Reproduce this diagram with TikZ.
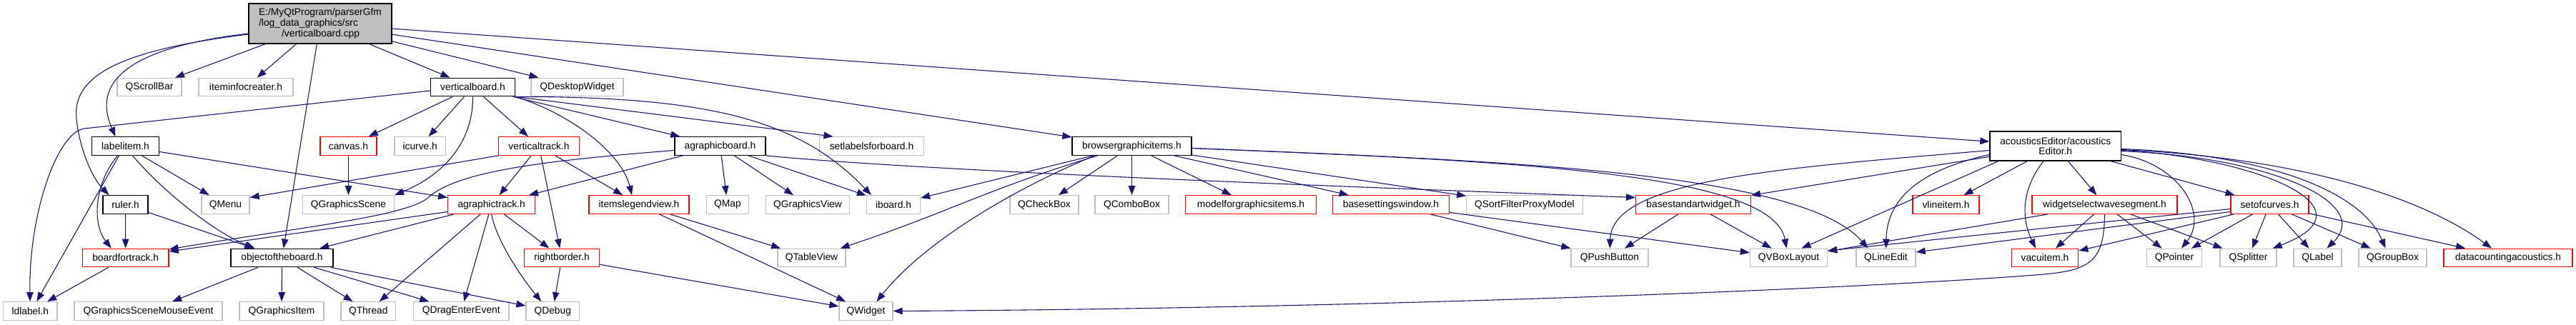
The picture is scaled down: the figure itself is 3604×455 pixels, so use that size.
\documentclass[tikz,border=0pt]{standalone}
\usepackage{fontspec}
\setmainfont{Liberation Sans}
\usepackage{tikz}
\usetikzlibrary{arrows.meta}
\definecolor{EdgeBlue}{HTML}{191970}
\definecolor{BoxGray}{HTML}{BFBFBF}
\definecolor{BoxRed}{HTML}{FF0000}

\begin{document}
\begin{tikzpicture}[
  x=1pt,y=1pt,
  font=\fontsize{13.8}{14.7}\selectfont,
  sysbox/.style={draw=BoxGray,line width=1.3pt,minimum height=25.5pt,inner sep=0pt},
  filebox/.style={draw=black,line width=1.3pt,minimum height=25.5pt,inner sep=0pt},
  cutbox/.style={draw=BoxRed,line width=1.3pt,minimum height=25.5pt,inner sep=0pt},
  rootbox/.style={draw=black,fill=BoxGray,line width=1.3pt,minimum width=200pt,minimum height=56pt,inner sep=0pt,align=left},
  arr/.style={-{Triangle[length=13pt,width=9.5pt]},line width=1.1pt,color=EdgeBlue}
]
\useasboundingbox (0,0) rectangle (3604,-455);

\node[rootbox] (root) at (448,-33)
  {E:/MyQtProgram/parserGfm\\/log\_data\_graphics/src\\\hspace*{32pt}/verticalboard.cpp};

\node[sysbox,minimum width=90pt] (scrollbar) at (209,-122) {QScrollBar};
\node[sysbox,minimum width=132pt] (infocreater) at (344,-122) {iteminfocreater.h};
\node[filebox,minimum width=118pt] (vboard) at (661.5,-122) {verticalboard.h};
\node[sysbox,minimum width=129pt] (desktopw) at (807.5,-122) {QDesktopWidget};

\node[filebox,minimum width=94pt] (labelitem) at (175.5,-204.5) {labelitem.h};
\node[cutbox,minimum width=79pt] (canvas) at (487.5,-204.5) {canvas.h};
\node[sysbox,minimum width=71.5pt] (icurve) at (587.7,-204.5) {icurve.h};
\node[cutbox,minimum width=112.5pt] (vtrack) at (754,-204.5) {verticaltrack.h};
\node[filebox,minimum width=127pt] (agboard) at (1007.5,-204.5) {agraphicboard.h};
\node[sysbox,minimum width=146pt] (setlabels) at (1219.5,-204.5) {setlabelsforboard.h};
\node[filebox,minimum width=167pt] (browser) at (1583.5,-204.5) {browsergraphicitems.h};
\node[filebox,minimum width=183.5pt,minimum height=41pt,align=center] (acoustic) at (2875.7,-204.5)
  {acousticsEditor/acoustics\\Editor.h};

\node[filebox,minimum width=63pt] (ruler) at (175.5,-286.5) {ruler.h};
\node[sysbox,minimum width=67pt] (qmenu) at (315.5,-286.5) {QMenu};
\node[sysbox,minimum width=128pt] (gscene) at (487.5,-286.5) {QGraphicsScene};
\node[cutbox,minimum width=122pt] (agtrack) at (687.7,-286.5) {agraphictrack.h};
\node[cutbox,minimum width=140pt] (legendview) at (894,-286.5) {itemslegendview.h};
\node[sysbox,minimum width=59pt] (qmap) at (1018,-286.5) {QMap};
\node[sysbox,minimum width=117.5pt] (gview) at (1130,-286.5) {QGraphicsView};
\node[sysbox,minimum width=75pt] (iboard) at (1250,-286.5) {iboard.h};
\node[sysbox,minimum width=96pt] (checkbox) at (1461,-286.5) {QCheckBox};
\node[sysbox,minimum width=103pt] (combobox) at (1583.5,-286.5) {QComboBox};
\node[cutbox,minimum width=182.5pt] (modelitems) at (1750,-286.5) {modelforgraphicsitems.h};
\node[cutbox,minimum width=162.5pt] (settingswin) at (1946,-286.5) {basesettingswindow.h};
\node[sysbox,minimum width=162.5pt] (sortproxy) at (2133,-286.5) {QSortFilterProxyModel};
\node[cutbox,minimum width=160.5pt] (stdwidget) at (2369,-286.5) {basestandartwidget.h};
\node[cutbox,minimum width=93pt] (vline) at (2722.5,-286.5) {vlineitem.h};
\node[cutbox,minimum width=203pt] (wavesegment) at (2944.5,-286.5) {widgetselectwavesegment.h};
\node[cutbox,minimum width=109pt] (curves) at (3175.5,-286.5) {setofcurves.h};

\node[cutbox,minimum width=120.5pt] (boardtrack) at (175.7,-361) {boardfortrack.h};
\node[filebox,minimum width=143pt] (objboard) at (394.5,-361) {objectoftheboard.h};
\node[cutbox,minimum width=105.6pt] (rborder) at (786,-361) {rightborder.h};
\node[sysbox,minimum width=95pt] (tableview) at (1135.5,-361) {QTableView};
\node[sysbox,minimum width=108pt] (pushbtn) at (2252,-361) {QPushButton};
\node[sysbox,minimum width=108pt] (vbox) at (2502.5,-361) {QVBoxLayout};
\node[sysbox,minimum width=83pt] (lineedit) at (2638.5,-361) {QLineEdit};
\node[cutbox,minimum width=93.5pt] (vacu) at (2861,-361) {vacuitem.h};
\node[sysbox,minimum width=77.5pt] (qpointer) at (3042,-361) {QPointer};
\node[sysbox,minimum width=79pt] (splitter) at (3145.5,-361) {QSplitter};
\node[sysbox,minimum width=67pt] (qlabel) at (3242.5,-361) {QLabel};
\node[sysbox,minimum width=95pt] (groupbox) at (3347.5,-361) {QGroupBox};
\node[cutbox,minimum width=180pt] (datacount) at (3509,-361) {datacountingacoustics.h};

\node[sysbox,minimum width=75.3pt] (ldlabel) at (42.3,-435.5) {ldlabel.h};
\node[sysbox,minimum width=207pt] (mouseevent) at (207.5,-435.5) {QGraphicsSceneMouseEvent};
\node[sysbox,minimum width=118pt] (gitem) at (394,-435.5) {QGraphicsItem};
\node[sysbox,minimum width=76.6pt] (qthread) at (515.3,-435.5) {QThread};
\node[sysbox,minimum width=133.5pt] (dragenter) at (645.3,-435.5) {QDragEnterEvent};
\node[sysbox,minimum width=74.5pt] (qdebug) at (773.3,-435.5) {QDebug};
\node[sysbox,minimum width=75pt] (qwidget) at (1211.5,-435.5) {QWidget};

\draw[arr] (root)--(scrollbar);
\draw[arr] (root)--(infocreater);
\draw[arr] (root)--(objboard);
\draw[arr] (root)--(vboard);
\draw[arr] (root)--(desktopw);
\draw[arr] (root)--(browser);
\draw[arr] (root)--(acoustic);
\draw[arr] ([yshift=-14pt]root.west) .. controls (150,-70) and (135,-130) .. ([xshift=-14pt]labelitem.north);
\draw[arr] ([yshift=-15pt]root.west) .. controls (170,-70) and (100,-105) .. (107,-167)
  .. controls (112,-212) and (130,-250) .. ([xshift=-23pt]ruler.north);

\draw[arr] ([yshift=-5pt]vboard.west)--(118,-180) .. controls (80,-185) and (40,-300) .. (ldlabel);
\draw[arr] (vboard)--(canvas);
\draw[arr] (vboard)--(icurve);
\draw[arr] (vboard.south) .. controls (662,-200) and (620,-245) .. (gscene.north east);
\draw[arr] (vboard)--(vtrack);
\draw[arr] (vboard)--(agboard);
\draw[arr] (vboard.south east) .. controls (800,-160) and (870,-215) .. ([xshift=-10pt]legendview.north);
\draw[arr] (vboard.south east)--([xshift=-54pt]setlabels.north);
\draw[arr] (vboard.south east) .. controls (1000,-135) and (1120,-170) .. ([xshift=-31pt]iboard.north);

\draw[arr] (labelitem)--(qmenu);
\draw[arr] ([xshift=-11pt]labelitem.south) .. controls (130,-260) and (130,-315) .. ([xshift=-20pt]boardtrack.north);
\draw[arr] ([xshift=-9pt]labelitem.south)--([xshift=9pt]ldlabel.north);
\draw[arr] ([xshift=10pt]labelitem.south) .. controls (230,-270) and (300,-325) .. ([xshift=-38pt]objboard.north);
\draw[arr] ([yshift=-8pt]labelitem.east)--([yshift=10pt]agtrack.west);

\draw[arr] (ruler)--(boardtrack);
\draw[arr] (ruler)--(objboard);
\draw[arr] (canvas)--(gscene);
\draw[arr] (boardtrack)--(ldlabel);
\draw[arr] (objboard)--(mouseevent);
\draw[arr] (objboard)--(gitem);
\draw[arr] (objboard)--(qthread);
\draw[arr] (objboard)--(dragenter);
\draw[arr] (objboard)--(qdebug);

\draw[arr] (vtrack.south west)--([yshift=10pt]qmenu.east);
\draw[arr] (vtrack)--(agtrack);
\draw[arr] (vtrack)--(rborder);
\draw[arr] (vtrack)--(legendview);

\draw[arr] (agboard)--(agtrack);
\draw[arr] ([yshift=-6pt]agboard.west) .. controls (760,-225) and (640,-240) .. (600,-276)
  .. controls (570,-303) and (420,-318) .. ([yshift=12pt]boardtrack.east);
\draw[arr] (agboard)--(qmap);
\draw[arr] (agboard)--(gview);
\draw[arr] (agboard)--(iboard);
\draw[arr] (agboard.south east) .. controls (1300,-240) and (1900,-262) .. ([yshift=10pt]stdwidget.west);

\draw[arr] (agtrack)--(rborder);
\draw[arr] (agtrack.south) .. controls (695,-340) and (735,-395) .. ([xshift=-16pt]qdebug.north);
\draw[arr] (agtrack)--(dragenter);
\draw[arr] (agtrack)--(qthread);
\draw[arr] ([yshift=-10pt]agtrack.west)--([yshift=9pt]boardtrack.east);
\draw[arr] (agtrack)--(objboard);

\draw[arr] (legendview)--(tableview);
\draw[arr] (legendview)--(qwidget);
\draw[arr] (rborder)--(qdebug);
\draw[arr] (rborder)--(qwidget);

\draw[arr] (browser)--(iboard);
\draw[arr] ([xshift=-48pt]browser.south) .. controls (1380,-265) and (1320,-300) .. ([xshift=-8pt]tableview.north east);
\draw[arr] ([xshift=-52pt]browser.south) .. controls (1440,-255) and (1300,-330) .. ([xshift=15pt]qwidget.north);
\draw[arr] (browser)--(checkbox);
\draw[arr] (browser)--(combobox);
\draw[arr] (browser)--(modelitems);
\draw[arr] (browser)--(settingswin);
\draw[arr] (browser)--(sortproxy);
\draw[arr] ([yshift=-3pt]browser.east) .. controls (2100,-225) and (2480,-240) .. ([xshift=-3pt]vbox.north);
\draw[arr] ([yshift=-3pt]browser.east) .. controls (2100,-225) and (2520,-240) .. ([xshift=-25pt]lineedit.north);

\draw[arr] (settingswin)--(pushbtn);
\draw[arr] (settingswin)--(vbox);
\draw[arr] (stdwidget)--(pushbtn);
\draw[arr] (stdwidget)--(vbox);

\draw[arr] ([yshift=-6pt]acoustic.west) .. controls (2500,-235) and (2255,-250) .. (pushbtn);
\draw[arr] (acoustic)--(stdwidget);
\draw[arr] ([xshift=-80pt]acoustic.south)--([xshift=18pt]vbox.north);
\draw[arr] ([yshift=-12pt]acoustic.west) .. controls (2700,-235) and (2640,-270) .. (lineedit);
\draw[arr] (acoustic)--(vline);
\draw[arr] ([xshift=-17pt]acoustic.south) .. controls (2825,-270) and (2830,-310) .. ([xshift=-13pt]vacu.north);
\draw[arr] (acoustic)--(wavesegment);
\draw[arr] (acoustic)--(curves);
\draw[arr] ([yshift=-12pt]acoustic.east) .. controls (3050,-230) and (3090,-300) .. ([xshift=10pt]qpointer.north);
\draw[arr] ([yshift=-6pt]acoustic.east) .. controls (3150,-220) and (3330,-290) .. ([xshift=-6pt]splitter.north east);
\draw[arr] ([yshift=-7pt]acoustic.east) .. controls (3180,-220) and (3320,-285) .. ([xshift=13pt]qlabel.north);
\draw[arr] ([yshift=-4pt]acoustic.east) .. controls (3150,-215) and (3300,-260) .. ([xshift=-10pt]groupbox.north);
\draw[arr] ([yshift=-5pt]acoustic.east) .. controls (3200,-220) and (3380,-270) .. ([xshift=-23pt]datacount.north);

\draw[arr] (wavesegment)--(vbox);
\draw[arr] (wavesegment)--(vacu);
\draw[arr] (wavesegment.south) .. controls (2944,-365) and (2925,-378) .. (2860,-384)
  .. controls (2600,-405) and (1900,-432) .. (qwidget.east);
\draw[arr] (wavesegment)--(qpointer);
\draw[arr] (wavesegment)--(splitter);

\draw[arr] ([yshift=-6pt]curves.west)--([yshift=10pt]vbox.east);
\draw[arr] ([yshift=-10pt]curves.west)--([yshift=8pt]lineedit.east);
\draw[arr] ([xshift=-50pt]curves.south)--([yshift=10pt]vacu.east);
\draw[arr] (curves)--(qpointer);
\draw[arr] (curves)--(splitter);
\draw[arr] (curves)--(qlabel);
\draw[arr] (curves)--(groupbox);
\draw[arr] (curves)--(datacount);
\end{tikzpicture}
\end{document}
